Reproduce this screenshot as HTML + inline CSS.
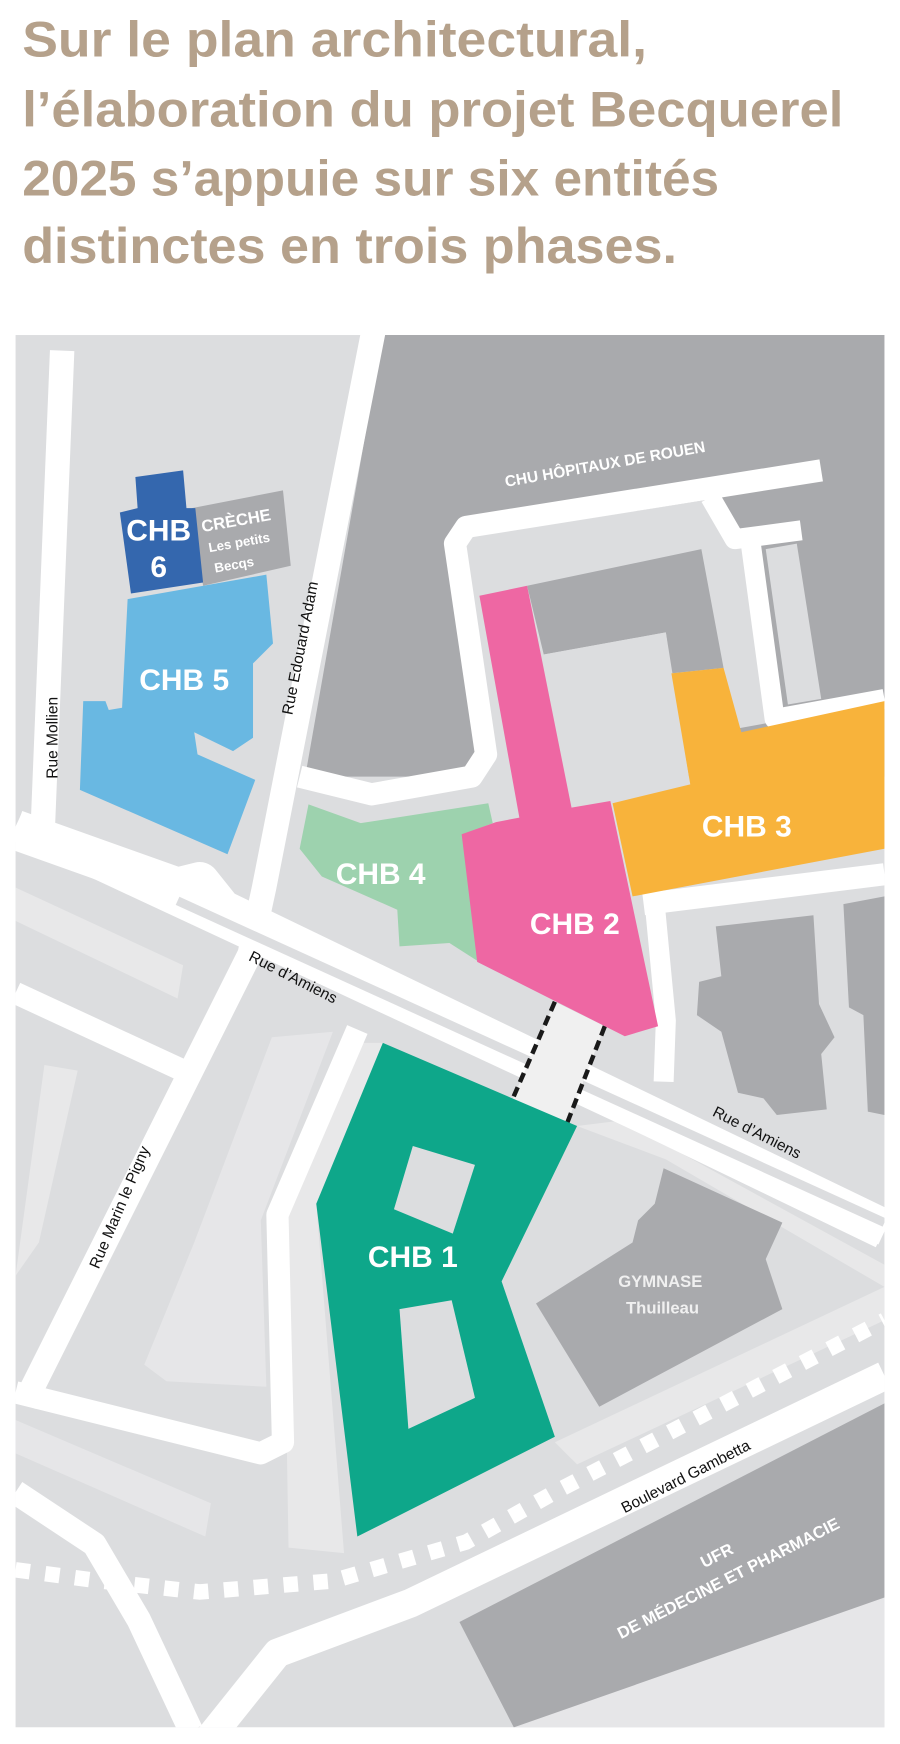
<!DOCTYPE html>
<html><head><meta charset="utf-8"><style>
html,body{margin:0;padding:0;background:#fff;}
svg{display:block;}
text{font-family:"Liberation Sans",sans-serif;}
</style></head><body>
<svg width="900" height="1744" viewBox="0 0 811 1572" preserveAspectRatio="none" xmlns="http://www.w3.org/2000/svg">
<rect width="811" height="1572" fill="#fff"/>
<g fill="#b5a18b" font-weight="bold" font-size="45">
<text x="20" y="51" textLength="563" lengthAdjust="spacingAndGlyphs">Sur le plan architectural,</text>
<text x="20" y="114" textLength="740" lengthAdjust="spacingAndGlyphs">l’élaboration du projet Becquerel</text>
<text x="20" y="176" textLength="628" lengthAdjust="spacingAndGlyphs">2025 s’appuie sur six entités</text>
<text x="20" y="237" textLength="590" lengthAdjust="spacingAndGlyphs">distinctes en trois phases.</text>
</g>
<clipPath id="m"><rect x="14" y="302" width="783" height="1255"/></clipPath>
<g clip-path="url(#m)">
<rect x="14" y="302" width="783" height="1255" fill="#dcdddf"/>
<polygon points="14,800 165,870 160,900 14,830" fill="#e8e8e9"/>
<polygon points="40,960 70,965 35,1120 14,1150" fill="#e8e8e9"/>
<polygon points="245,935 300,930 235,1100 240,1250 150,1245 130,1230 175,1120" fill="#e6e6e8"/>
<polygon points="14,1280 190,1355 185,1385 14,1310" fill="#e6e6e8"/>
<polygon points="255,1100 300,1000 320,940 345,940 285,1085 310,1400 260,1395" fill="#e8e8e9"/>
<polygon points="520,1015 600,1045 797,1160 797,1140 560,1010" fill="#e8e8e9"/>
<polygon points="500,1300 797,1160 797,1190 520,1320" fill="#e8e8e9"/>
<polygon points="463,1557 797,1400 797,1557" fill="#e6e6e8"/>
<polygon points="345,302 797,302 797,700 275,700" fill="#a9aaad"/>
<polygon points="418,485 640,450 668,490 690,652 580,672 452,742 430,700" fill="#dcdddf"/>
<polygon points="475,528 632,495 652,602 605,607 600,570 490,590" fill="#a9aaad"/>
<polygon points="490,590 600,570 622,707 515,727" fill="#dcdddf"/>
<polygon points="690,495 718,490 740,630 710,635" fill="#dcdddf"/>
<g fill="none" stroke="#fff" stroke-linejoin="round">
<polyline points="56,316 38,760" stroke-width="22"/>
<polyline points="337,296 238,800 225,860 22,1265" stroke-width="22"/>
<polyline points="14,748 160,800 180,795 200,820 797,1108" stroke-width="36"/>
<polyline points="14,745 797,1110" stroke-width="26"/>
<polyline points="160,812 797,1102" stroke-width="8" stroke="#dcdddf"/>
<polyline points="740,424 420,475 410,490 438,680 425,700 335,716 270,700" stroke-width="20"/>
<polyline points="640,448 662,486 722,478"  stroke-width="18"/>
<polyline points="676,486 698,648 797,630" stroke-width="18"/>
<polyline points="580,815 797,788" stroke-width="20"/>
<polyline points="590,815 600,920 598,975" stroke-width="18"/>
<polyline points="14,895 165,965" stroke-width="20"/>
<polyline points="322,928 250,1095 255,1300 235,1310 14,1255" stroke-width="20"/>
<polyline points="14,1345 85,1392 125,1460 172,1560" stroke-width="22"/>
<polyline points="190,1565 250,1490 370,1445 797,1240" stroke-width="26"/>
</g>
<polyline points="14,1415 90,1425 180,1435 300,1425 420,1390 500,1345 797,1190" fill="none" stroke="#fff" stroke-width="14" stroke-dasharray="13,14"/>
<polygon points="500,903 545,925 510,1015 460,995" fill="#f0f0f0"/>
<g stroke="#1a1a1a" stroke-width="4" stroke-dasharray="9,5">
<line x1="500" y1="903" x2="460" y2="995"/>
<line x1="545" y1="925" x2="510" y2="1015"/>
</g>
<polygon points="645,835 733,825 738,905 752,935 740,950 745,1000 700,1005 688,990 665,985 650,930 628,915 630,885 650,880" fill="#a9aaad"/>
<polygon points="760,815 797,808 797,1005 782,1002 778,915 765,908" fill="#a9aaad"/>
<polygon points="598,1053 705,1102 690,1135 705,1180 540,1268 483,1175 570,1120 575,1100 590,1085" fill="#a9aaad"/>
<polygon points="414,1462 797,1265 797,1440 463,1557" fill="#a9aaad"/>
<polygon points="173,458 255,442 262,510 183,528" fill="#a9aaad"/>
<polygon points="122,430 165,424 168,458 176,458 183,525 118,535 108,462 124,458" fill="#3467ae"/>
<polygon points="115,540 240,518 246,580 228,598 228,665 210,677 175,660 178,680 230,703 205,770 72,712 75,632 95,632 98,640 110,638" fill="#69b8e2"/>
<polygon points="278,725 325,742 440,724 444,742 418,752 430,866 405,850 360,853 358,820 290,790 270,765" fill="#9dd2ae"/>
<polygon points="605,607 652,602 668,660 797,632 797,765 570,808 552,724 622,707" fill="#f8b33b"/>
<polygon points="432,537 475,528 515,728 550,722 593,925 563,934 430,867 416,752 447,741 468,737" fill="#ee67a3"/>
<polygon points="345,940 520,1015 452,1155 500,1295 322,1385 285,1085" fill="#0ea78a"/>
<polygon points="372,1033 428,1050 408,1112 355,1090" fill="#dcdddf"/>
<polygon points="360,1180 407,1172 428,1260 368,1288" fill="#dcdddf"/>
<g fill="#fff" font-weight="bold" text-anchor="middle">
<text x="143" y="487" font-size="27">CHB</text>
<text x="143" y="520" font-size="27">6</text>
<text x="166" y="622" font-size="27">CHB 5</text>
<text x="343" y="797" font-size="27">CHB 4</text>
<text x="518" y="842" font-size="27">CHB 2</text>
<text x="673" y="754" font-size="27">CHB 3</text>
<text x="372" y="1142" font-size="27">CHB 1</text>
</g>
<g fill="#fff" font-weight="bold" transform="rotate(-10 215 480)">
<text x="183" y="474" font-size="15">CRÈCHE</text>
<text x="186" y="493" font-size="12">Les petits</text>
<text x="188" y="512" font-size="12">Becqs</text>
</g>
<text x="546" y="423" transform="rotate(-10 546 423)" fill="#fff" font-weight="bold" font-size="14" text-anchor="middle">CHU HÔPITAUX DE ROUEN</text>
<g fill="#f0f0f0" font-weight="bold" font-size="15" text-anchor="middle">
<text x="595" y="1160">GYMNASE</text>
<text x="597" y="1184">Thuilleau</text>
</g>
<g fill="#fff" font-weight="bold" font-size="15" text-anchor="middle" transform="rotate(-27 655 1420)">
<text x="655" y="1405">UFR</text>
<text x="655" y="1428">DE MÉDECINE ET PHARMACIE</text>
</g>
<g fill="#111" font-size="14">
<text x="52" y="665" transform="rotate(-90 52 665)" text-anchor="middle">Rue Mollien</text>
<text x="275" y="585" transform="rotate(-79 275 585)" text-anchor="middle">Rue Edouard Adam</text>
<text x="262" y="885" transform="rotate(27 262 885)" text-anchor="middle">Rue d’Amiens</text>
<text x="680" y="1025" transform="rotate(27 680 1025)" text-anchor="middle">Rue d’Amiens</text>
<text x="112" y="1090" transform="rotate(-67 112 1090)" text-anchor="middle">Rue Marin le Pigny</text>
<text x="620" y="1335" transform="rotate(-27 620 1335)" text-anchor="middle">Boulevard Gambetta</text>
</g>
</g>
</svg>
</body></html>
